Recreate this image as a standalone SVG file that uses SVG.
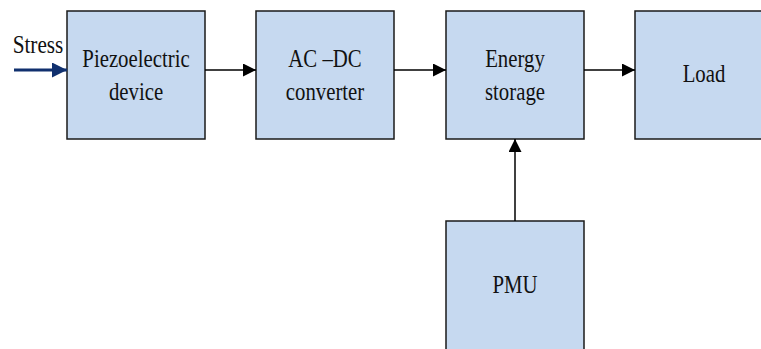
<svg xmlns="http://www.w3.org/2000/svg" width="761" height="349" viewBox="0 0 761 349">
<defs>
<marker id="ah" markerWidth="13" markerHeight="13" refX="13" refY="6.5" orient="auto" markerUnits="userSpaceOnUse">
<path d="M0,0 L13,6.5 L0,13 Z" fill="#000"/>
</marker>
<marker id="ahs" markerWidth="15" markerHeight="15" refX="15" refY="7.5" orient="auto" markerUnits="userSpaceOnUse">
<path d="M0,0 L15,7.5 L0,15 Z" fill="#10306e"/>
</marker>
</defs>
<style>
.box{fill:#c6d9f0;stroke:#1a1a1a;stroke-width:1.5}
.t{font-family:"Liberation Serif","Times New Roman",serif;font-size:26px;fill:#111;text-anchor:middle}
.c{stroke:#000;stroke-width:1.5;fill:none;marker-end:url(#ah)}
</style>
<rect width="761" height="349" fill="#fff"/>
<g id="piezo">
<rect class="box" x="67" y="11" width="138" height="128"/>
<text class="t" transform="translate(136,67) scale(0.8,1)">Piezoelectric</text>
<text class="t" transform="translate(136,100) scale(0.8,1)">device</text>
</g>
<g id="acdc">
<rect class="box" x="256" y="11" width="138" height="128"/>
<text class="t" transform="translate(325,67) scale(0.8,1)">AC –DC</text>
<text class="t" transform="translate(325,100) scale(0.8,1)">converter</text>
</g>
<g id="storage">
<rect class="box" x="446" y="11" width="138" height="128"/>
<text class="t" transform="translate(515,67) scale(0.8,1)">Energy</text>
<text class="t" transform="translate(515,100) scale(0.8,1)">storage</text>
</g>
<g id="load">
<rect class="box" x="635" y="11" width="138" height="128"/>
<text class="t" transform="translate(704,82) scale(0.8,1)">Load</text>
</g>
<g id="pmu">
<rect class="box" x="446" y="221" width="138" height="140"/>
<text class="t" transform="translate(515,293) scale(0.8,1)">PMU</text>
</g>
<g id="stress">
<text class="t" style="font-size:25px" transform="translate(38,52.5) scale(0.85,1)">Stress</text>
</g>
<g id="connectors">
<line x1="14" y1="70" x2="67" y2="70" stroke="#10306e" stroke-width="3" marker-end="url(#ahs)"/>
<line class="c" x1="205" y1="70" x2="256" y2="70"/>
<line class="c" x1="394" y1="70" x2="446" y2="70"/>
<line class="c" x1="584" y1="70" x2="635" y2="70"/>
<line class="c" x1="515" y1="221" x2="515" y2="139"/>
</g>
</svg>
